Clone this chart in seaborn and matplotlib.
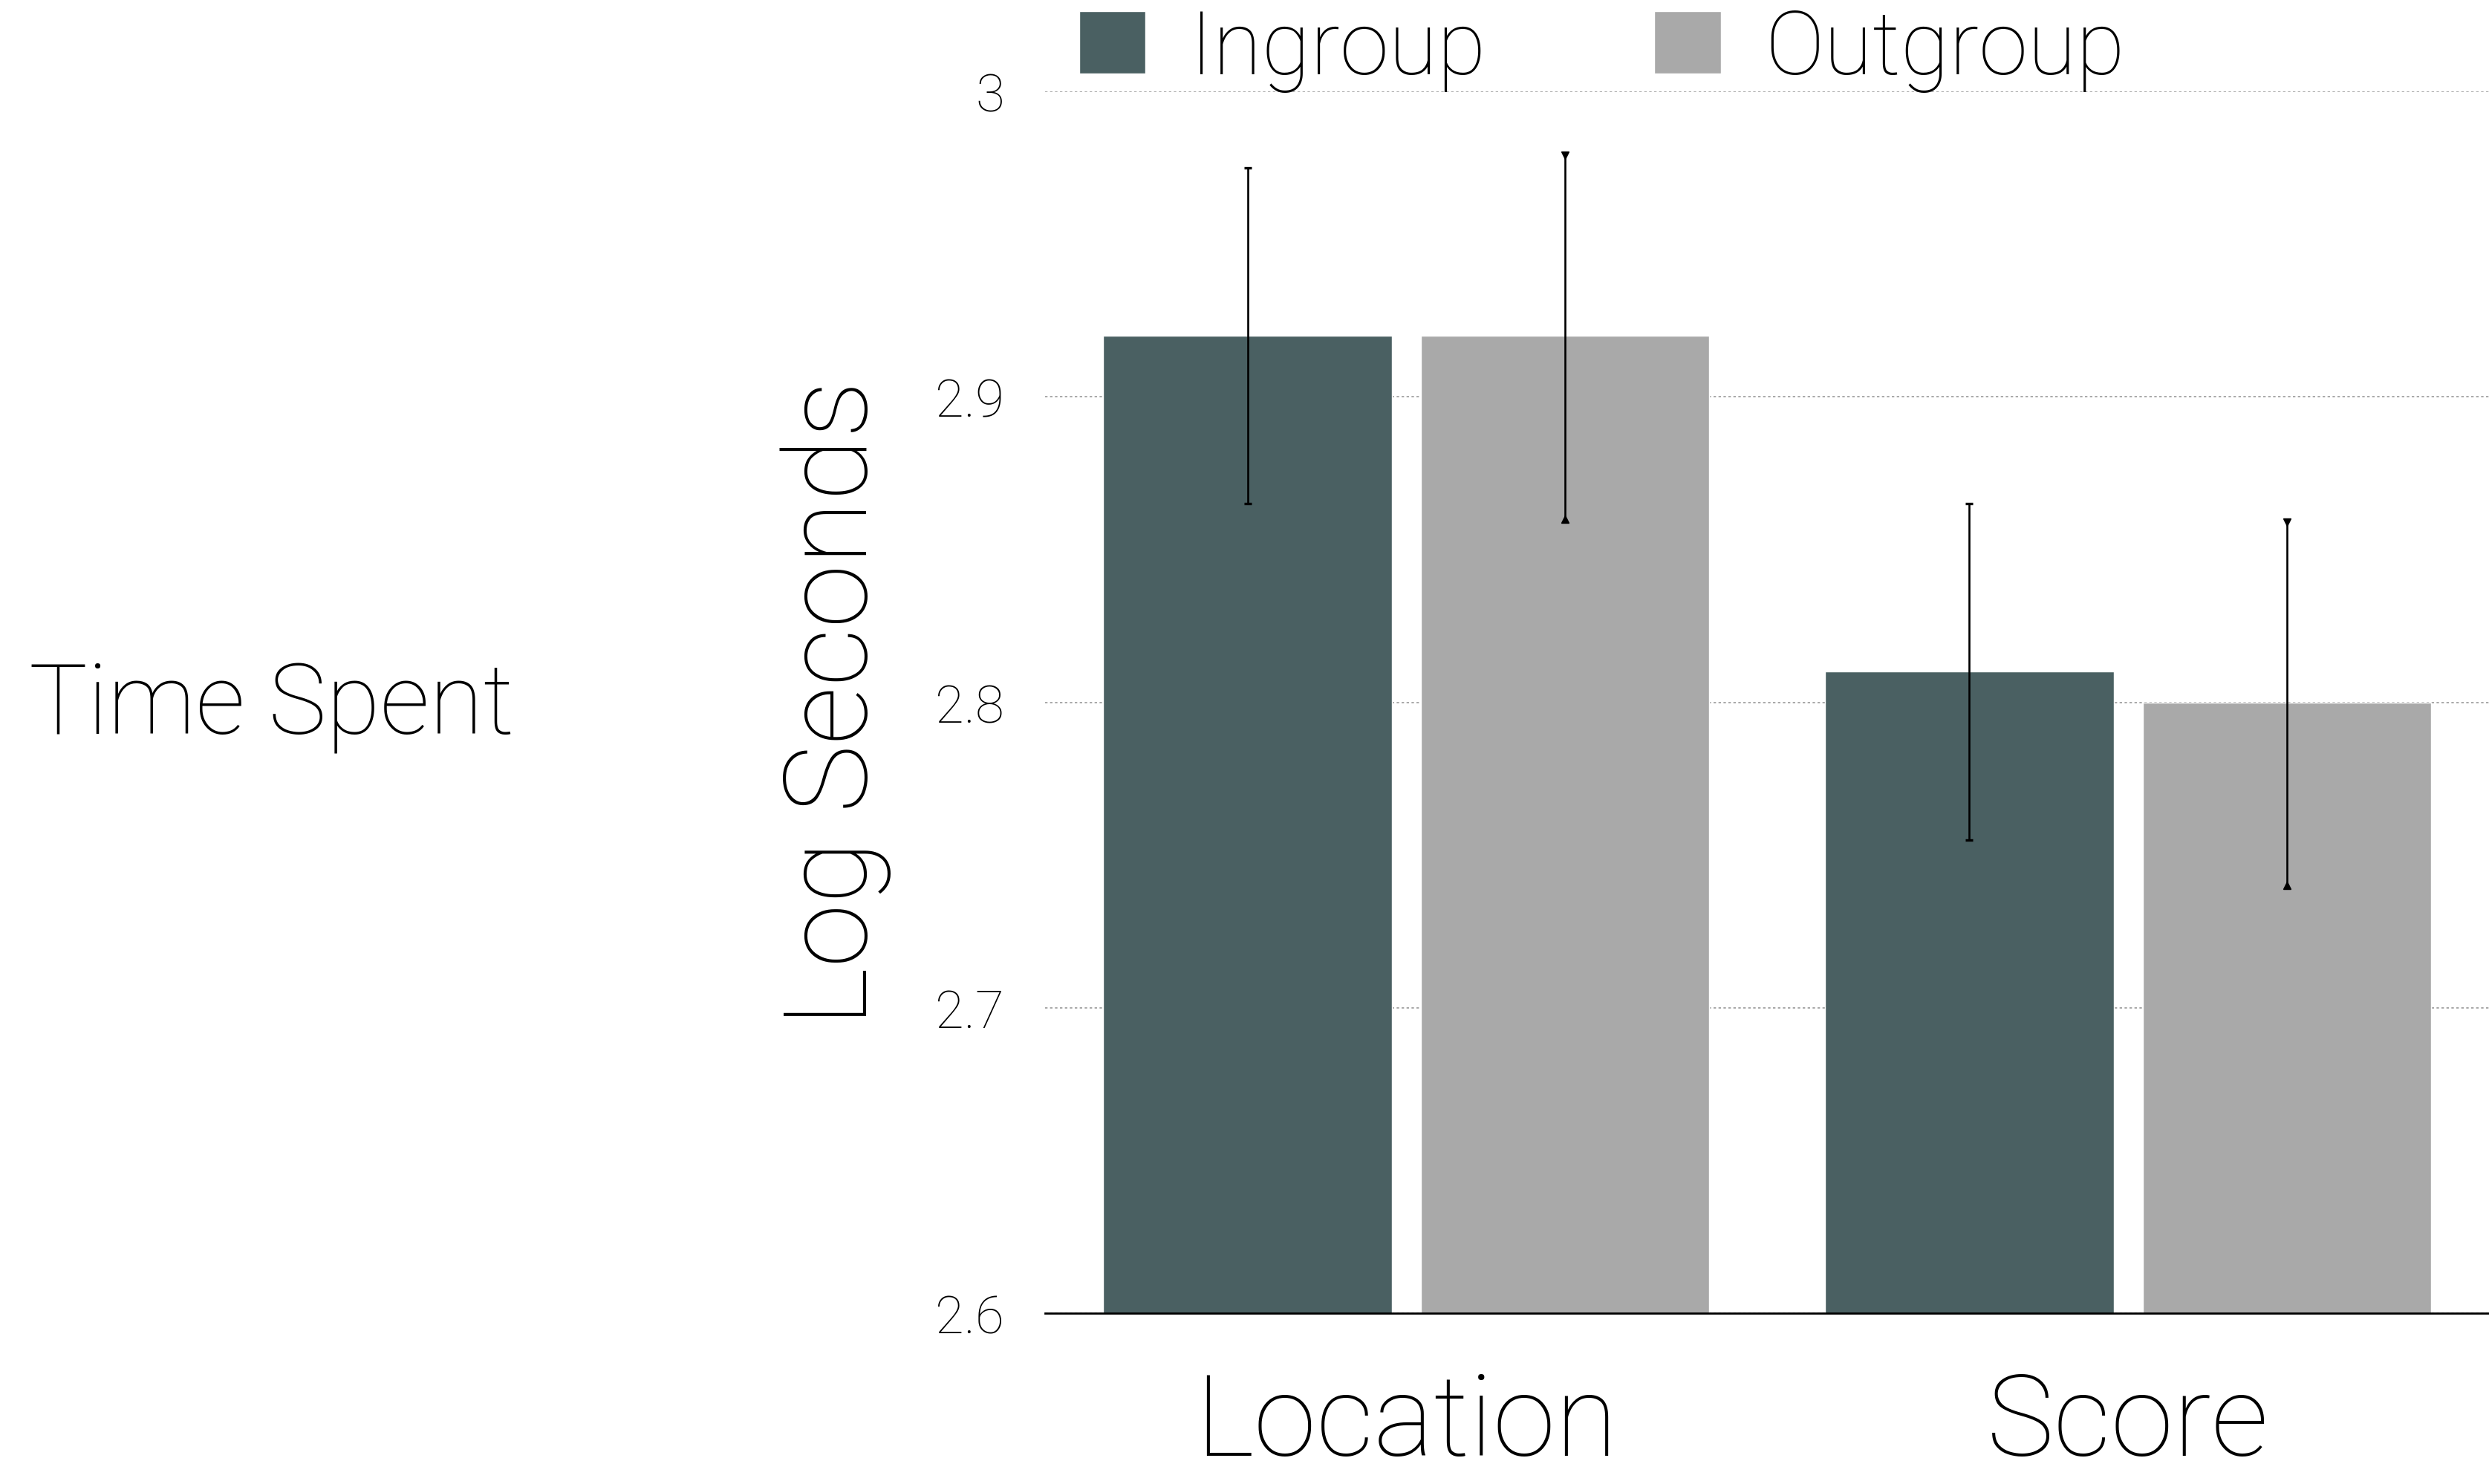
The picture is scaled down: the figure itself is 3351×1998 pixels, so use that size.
import numpy as np
import pandas as pd
import matplotlib
matplotlib.use("Agg")
import matplotlib.pyplot as plt
import seaborn as sns
from matplotlib.ticker import FuncFormatter

# values
categories = ["Location", "Score"]
groups = ["Ingroup", "Outgroup"]
ingroup_mean = [2.920, 2.810]
outgroup_mean = [2.920, 2.800]
ingroup_lo = [2.865, 2.755]
ingroup_hi = [2.975, 2.865]
outgroup_lo = [2.860, 2.740]
outgroup_hi = [2.979, 2.859]
yticks = [2.6, 2.7, 2.8, 2.9, 3.0]

colors = {"Ingroup": "#4A6062", "Outgroup": "#A9A9A9"}

df = pd.DataFrame({
    "category": categories * 2,
    "group": ["Ingroup"] * 2 + ["Outgroup"] * 2,
    "value": ingroup_mean + outgroup_mean,
})

sns.set_style("white")
plt.rcParams["font.family"] = ["Roboto", "DejaVu Sans"]
plt.rcParams["font.weight"] = "light"
plt.rcParams["text.color"] = "black"
plt.rcParams["axes.labelcolor"] = "black"
plt.rcParams["xtick.color"] = "black"
plt.rcParams["ytick.color"] = "black"

fig = plt.figure(figsize=(33.51, 19.99), dpi=100)
ax = fig.add_axes([0.420, 0.115, 0.58, 0.823])

sns.barplot(data=df, x="category", y="value", hue="group", order=categories,
            hue_order=groups, palette=colors, width=0.88, gap=0.0909,
            errorbar=None, saturation=1, ax=ax, legend=True)

# error bars on top of the bars, positions from the drawn patches
los = {"Ingroup": ingroup_lo, "Outgroup": outgroup_lo}
his = {"Ingroup": ingroup_hi, "Outgroup": outgroup_hi}
for container, g in zip(ax.containers, groups):
    xs = [p.get_x() + p.get_width() / 2 for p in container.patches]
    lo = np.array(los[g])
    hi = np.array(his[g])
    ax.vlines(xs, lo, hi, color="black", lw=1.9, zorder=5)
    if g == "Ingroup":
        ax.plot(xs, lo, ls="none", marker="_", ms=7.5, mew=2.4, color="black", zorder=6)
        ax.plot(xs, hi, ls="none", marker="_", ms=7.5, mew=2.4, color="black", zorder=6)
    else:
        ax.plot(xs, lo, ls="none", marker="^", ms=6.5, color="black", zorder=6)
        ax.plot(xs, hi, ls="none", marker="v", ms=6.5, color="black", zorder=6)

ax.set_ylim(2.6, 3.0)
ax.set_xlim(-0.5, 1.5)
ax.set_yticks(yticks)
ax.yaxis.set_major_formatter(FuncFormatter(lambda v, p: f"{v:g}"))
ax.grid(axis="y", color="#9a9a9a", linestyle=(0, (2, 2)), lw=1.2)
ax.set_axisbelow(True)
for s in ["top", "right", "left"]:
    ax.spines[s].set_visible(False)
ax.spines["bottom"].set_color("black")
ax.spines["bottom"].set_linewidth(2)
ax.spines["bottom"].set_zorder(10)

ax.tick_params(axis="y", length=0, pad=40, labelsize=51)
ax.tick_params(axis="x", length=0, pad=55, labelsize=110)
ax.set_xlabel("")
ax.set_ylabel("Log Seconds", fontsize=112, fontweight="light", va="center")
ax.yaxis.set_label_coords(-0.145, 0.5)

fig.text(0.0115, 0.524, "Time Spent", fontsize=95, ha="left", va="center")

ax.get_legend().remove()
handles, labels = ax.get_legend_handles_labels()
fig.legend(handles, labels, loc="center left", bbox_to_anchor=(0.4335, 0.966),
           ncol=2, frameon=False, fontsize=86, handlelength=0.75,
           handleheight=0.70, handletextpad=0.5, columnspacing=1.9,
           borderpad=0, borderaxespad=0)

fig.savefig("out.png", dpi=100)
